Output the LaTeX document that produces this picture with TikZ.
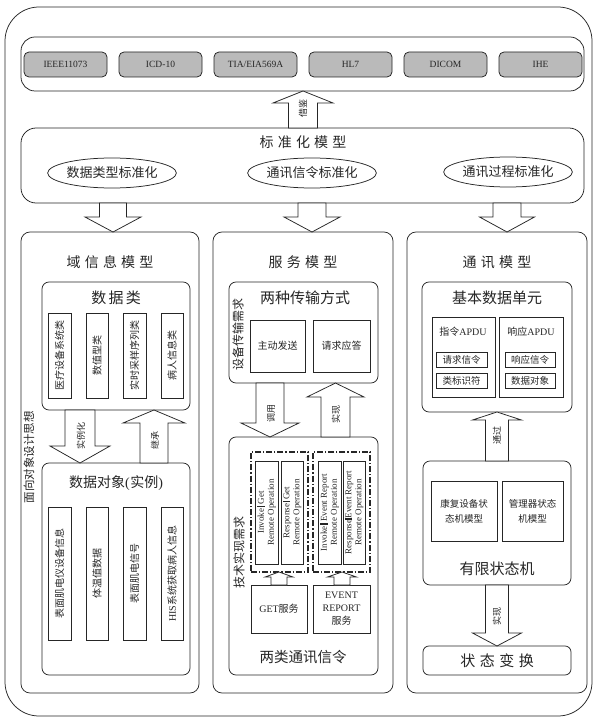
\documentclass[tikz,border=0pt]{standalone}
\usepackage{fontspec}
\setmainfont{Liberation Serif}
\newfontfamily\cjk{Noto Sans CJK SC}
\newfontfamily\cjkw[LetterSpace=30]{Noto Sans CJK SC}
\newfontfamily\cjkm[LetterSpace=15]{Noto Sans CJK SC}
\usetikzlibrary{shapes.geometric}
\tikzset{
 ln/.style={draw=black!85, line width=0.75pt},
 rbox/.style={ln, rounded corners=7pt, inner sep=0pt, fill=white, text=black!85, align=center},
 sbox/.style={ln, inner sep=0pt, fill=white, text=black!85, align=center},
 gbox/.style={ln, rounded corners=5pt, inner sep=0pt, fill=black!27, text=black!85},
 ddbox/.style={draw=black!85, line width=1.3pt, dash pattern=on 6pt off 2pt on 1.2pt off 2pt, inner sep=0pt},
 arr/.style={ln, fill=white},
 tx/.style={text=black!85, inner sep=0pt, align=center},
 optx/.style={tx, rotate=90, font=\fontsize{9pt}{10pt}\selectfont},
 ell/.style={ln, ellipse, fill=white, minimum width=120pt, minimum height=30pt, inner sep=0pt, text=black!85},
}
\newcommand\fsz[1]{\fontsize{#1pt}{\dimexpr #1pt*13/10\relax}\selectfont}
\newcommand\bx[7]{\node[#1, minimum width={(#4)-(#2)}, minimum height={(#5)-(#3)}] (#6) at ({((#2)+(#4))/2},{((#3)+(#5))/2}) {#7};}
\newcommand\barr[6]{\draw[arr] ({#1-#5},#4) -- ({#1-#5},#3) -- ({#1-#6},#3) -- (#1,#2) -- ({#1+#6},#3) -- ({#1+#5},#3) -- ({#1+#5},#4) -- cycle;}
\newcommand\vbar{\,\rule[-0.8pt]{1.3pt}{7.5pt}\,}
\begin{document}
\begin{tikzpicture}[x=1pt,y=-1pt]
\useasboundingbox (0,0) rectangle (596,719);
% outer frame
\bx{rbox, rounded corners=34pt}{5}{7}{592}{716}{frame}{}
% standards bar
\bx{rbox, rounded corners=14pt}{21}{37}{584}{91}{stdbar}{}
\bx{gbox}{24}{52}{107}{77}{s1}{\fsz{9.5}IEEE11073}
\bx{gbox}{119}{52}{202}{77}{s2}{\fsz{9.5}ICD-10}
\bx{gbox}{214}{52}{297}{77}{s3}{\fsz{9.5}TIA/EIA569A}
\bx{gbox}{309}{52}{392}{77}{s4}{\fsz{9.5}HL7}
\bx{gbox}{404}{52}{487}{77}{s5}{\fsz{9.5}DICOM}
\bx{gbox}{499}{52}{582}{77}{s6}{\fsz{9.5}IHE}
% standard model
\bx{rbox, rounded corners=15pt}{21}{128}{584}{203}{stdm}{}
\node[tx] (stdt) at (303,142) {\cjkw\fsz{14}标准化模型};
\node[ell] (e1) at (112,173) {\cjk\fsz{13}数据类型标准化};
\node[ell] (e2) at (312,173) {\cjk\fsz{13}通讯信令标准化};
\node[ell] (e3) at (508,172) {\cjk\fsz{13}通讯过程标准化};
\barr{303}{91}{103}{128}{14.5}{30}
\node[tx, rotate=90] (lb0) at (303,109) {\cjk\fsz{9}借鉴};
% columns
\bx{rbox, rounded corners=9pt}{21}{232}{199}{693}{colL}{}
\bx{rbox, rounded corners=9pt}{213}{232}{393}{693}{colM}{}
\bx{rbox, rounded corners=9pt}{407}{232}{587}{693}{colR}{}
\barr{113}{232}{217}{203}{13.5}{28}
\barr{312}{232}{217}{203}{14}{28}
\barr{507}{232}{217}{203}{14}{27.5}
% ---------- left column
\node[tx] (tl) at (110,262) {\cjkw\fsz{14}域信息模型};
\node[tx, rotate=90] (oo) at (29,457) {\cjk\fsz{11.5}面向对象设计思想};
\bx{rbox}{42}{282}{190}{410}{dc}{}
\node[tx] (dct) at (116,298) {\cjkm\fsz{15}数据类};
\bx{sbox}{48}{313}{71}{398}{dc1}{}
\bx{sbox}{86}{313}{108}{398}{dc2}{}
\bx{sbox}{123}{313}{146}{398}{dc3}{}
\bx{sbox}{161}{313}{183}{398}{dc4}{}
\node[tx, rotate=90] at (dc1) {\cjk\fsz{10}医疗设备系统类};
\node[tx, rotate=90] at (dc2) {\cjk\fsz{10}数值型类};
\node[tx, rotate=90] at (dc3) {\cjk\fsz{10}实时采样序列类};
\node[tx, rotate=90] at (dc4) {\cjk\fsz{10}病人信息类};
\bx{rbox}{42}{463}{190}{675}{do}{}
\node[tx] (dot) at (116,483) {\fsz{14}{\cjk 数据对象}(\kern0.5pt{\cjk 实例})};
\bx{sbox}{48}{507}{71}{640}{do1}{}
\bx{sbox}{86}{507}{108}{640}{do2}{}
\bx{sbox}{123}{507}{146}{640}{do3}{}
\bx{sbox}{161}{507}{183}{640}{do4}{}
\node[tx, rotate=90] at (do1) {\cjk\fsz{10}表面肌电仪设备信息};
\node[tx, rotate=90] at (do2) {\cjk\fsz{10}体温值数据};
\node[tx, rotate=90] at (do3) {\cjk\fsz{10}表面肌电信号};
\node[tx, rotate=90] at (do4) {\fsz{10}HIS{\cjk 系统获取病人信息}};
\barr{80}{463}{446}{410}{15}{30}
\node[tx, rotate=90] (lb1) at (81,436) {\cjk\fsz{9}实例化};
\barr{154}{410}{423}{463}{14}{31}
\node[tx, rotate=90] (lb2) at (155,440) {\cjk\fsz{9}继承};
% ---------- middle column
\node[tx] (tm) at (303,262) {\cjkw\fsz{14}服务模型};
\bx{rbox}{229}{282}{378}{383}{tw}{}
\node[tx] (twt) at (305,298) {\cjk\fsz{15}两种传输方式};
\node[tx, rotate=90] (sb) at (238,334) {\cjk\fsz{12}设备传输需求};
\bx{sbox}{250}{320}{305}{372}{zd}{\cjk\fsz{10}主动发送}
\bx{sbox}{313}{320}{370}{372}{qq}{\cjk\fsz{10}请求应答}
\bx{rbox}{229}{437}{378}{675}{jr}{}
\barr{270}{437}{423}{383}{14}{29}
\node[tx, rotate=90] (lb3) at (271,413) {\cjk\fsz{9}调用};
\barr{335.5}{383}{397}{437}{14.5}{28.5}
\node[tx, rotate=90] (lb4) at (336,414) {\cjk\fsz{9}实现};
\node[tx, rotate=90] (js) at (239,552) {\cjk\fsz{12}技术实现需求};
\bx{ddbox}{251}{452}{308}{572}{dg}{}
\bx{ddbox}{313}{452}{370}{572}{de}{}
\bx{sbox}{255}{461}{278}{564}{r1}{}
\bx{sbox}{281}{461}{303}{564}{r2}{}
\bx{sbox}{318}{461}{341}{564}{r3}{}
\bx{sbox}{343}{461}{365}{564}{r4}{}
\node[optx] at (r1) {Invoke\vbar Get\\Remote Operation};
\node[optx] at (r2) {Response\vbar Get\\Remote Operation};
\node[optx] at (r3) {Invoke\vbar Event Report\\Remote Operation};
\node[optx] at (r4) {Response\rule[-0.8pt]{1.3pt}{7.5pt}Event Report\\Remote Operation};
\bx{sbox}{251}{585}{307}{633}{get}{\fsz{10}GET{\cjk 服务}}
\bx{sbox, font=\fontsize{10pt}{13pt}\selectfont}{313}{585}{370}{633}{ev}{EVENT\\REPORT\\{\cjk 服务}}
\barr{279}{572}{577}{585}{8}{14}
\barr{342}{572}{577}{585}{8}{14.5}
\node[tx] (lx) at (303,657) {\cjk\fsz{14.5}两类通讯信令};
% ---------- right column
\node[tx] (tr) at (497,262) {\cjkw\fsz{14}通讯模型};
\bx{rbox}{422}{282}{572}{412}{jb}{}
\node[tx] (jbt) at (497,298) {\cjk\fsz{15}基本数据单元};
\bx{sbox}{432}{317}{495}{397}{zl}{}
\bx{sbox}{499}{317}{563}{397}{xy}{}
\node[tx] (zlt) at (463,332) {\fsz{10}{\cjk 指令}APDU};
\node[tx] (xyt) at (531,332) {\fsz{10}{\cjk 响应}APDU};
\bx{sbox}{436}{352}{487}{367}{a1}{\cjk\fsz{9.5}请求信令}
\bx{sbox}{436}{373}{487}{388}{a2}{\cjk\fsz{9.5}类标识符}
\bx{sbox}{505}{352}{555}{367}{a3}{\cjk\fsz{9.5}响应信令}
\bx{sbox}{505}{373}{555}{388}{a4}{\cjk\fsz{9.5}数据对象}
\bx{rbox}{423}{461}{571}{585}{fsm}{}
\barr{497}{412}{420}{461}{11.5}{24.5}
\node[tx, rotate=90] (lb5) at (497,435) {\cjk\fsz{9}通过};
\bx{sbox, font=\cjk\fontsize{9.5pt}{15pt}\selectfont}{431}{481}{497}{541}{kf}{康复设备状\\态机模型}
\bx{sbox, font=\cjk\fontsize{9.5pt}{15pt}\selectfont}{502}{481}{563}{541}{gl}{管理器状态\\机模型}
\node[tx] (fsmt) at (497,569) {\cjk\fsz{15}有限状态机};
\bx{rbox, rounded corners=6pt}{423}{646}{571}{675}{zt}{\cjkw\fsz{15}状态变换}
\barr{497}{646}{633}{585}{11.5}{24.5}
\node[tx, rotate=90] (lb6) at (497,616) {\cjk\fsz{9}实现};
\end{tikzpicture}
\end{document}
